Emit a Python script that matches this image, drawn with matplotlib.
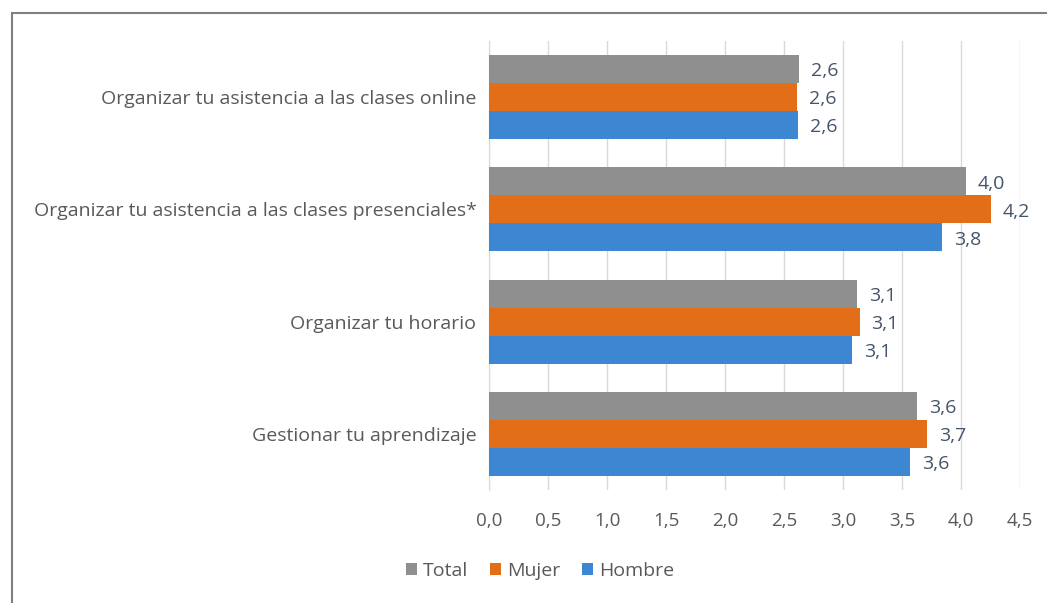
import numpy as np
import matplotlib.pyplot as plt
from matplotlib.patches import Rectangle

categories = ["Organizar tu asistencia a las clases online",
              "Organizar tu asistencia a las clases presenciales*",
              "Organizar tu horario",
              "Gestionar tu aprendizaje"]
total = [2.63, 4.04, 3.12, 3.63]
mujer = [2.61, 4.25, 3.14, 3.71]
hombre = [2.62, 3.84, 3.08, 3.57]
ticks = [0.0, 0.5, 1.0, 1.5, 2.0, 2.5, 3.0, 3.5, 4.0, 4.5]

plt.rcParams['font.family'] = ['Open Sans', 'DejaVu Sans']
txt = '#595959'

fig = plt.figure(figsize=(10.47, 6.03), dpi=100)
ax = fig.add_axes([489 / 1047, 1 - 490 / 603, (1020 - 489) / 1047, (490 - 41) / 603])

# outer frame of the chart object
fig.patches.append(Rectangle((12 / 1047, -0.01), 1.1, 1 - 13 / 603 + 0.01,
                             transform=fig.transFigure, fill=False,
                             edgecolor='#7f7f7f', linewidth=1.5))

y = np.arange(len(categories))
h = 0.25
series = [("Total", total, '#8f8f8f', -h),
          ("Mujer", mujer, '#E36E18', 0),
          ("Hombre", hombre, '#3C86D2', h)]
for name, vals, col, off in series:
    bars = ax.barh(y + off, vals, height=h, color=col, label=name, zorder=3)
    for b, v in zip(bars, vals):
        ax.text(v + 0.1, b.get_y() + b.get_height() / 2 + 0.02,
                ('%.1f' % round(v, 1)).replace('.', ','),
                va='center', ha='left', fontsize=14, color='#44546A')

ax.set_ylim(3.5, -0.5)
ax.set_xlim(0, 4.5)
ax.set_yticks(y)
ax.set_yticklabels(categories, fontsize=14, color=txt)
ax.set_xticks(ticks)
ax.set_xticklabels([('%.1f' % t).replace('.', ',') for t in ticks], fontsize=13.5, color=txt)
ax.tick_params(axis='y', length=0, pad=9)
ax.tick_params(axis='x', length=0, pad=16)
ax.grid(axis='x', color='#d9d9d9', linewidth=1, zorder=0)
for s in ['top', 'right', 'bottom']:
    ax.spines[s].set_visible(False)
ax.spines['left'].set_color('#d9d9d9')

ax.legend(loc='center', bbox_to_anchor=(540 / 1047, 1 - 571 / 603),
          bbox_transform=fig.transFigure, ncol=3, frameon=False,
          fontsize=14, labelcolor=txt, handlelength=0.6, handleheight=0.6,
          handletextpad=0.3, columnspacing=1.1)

fig.savefig('out.png', dpi=100)
